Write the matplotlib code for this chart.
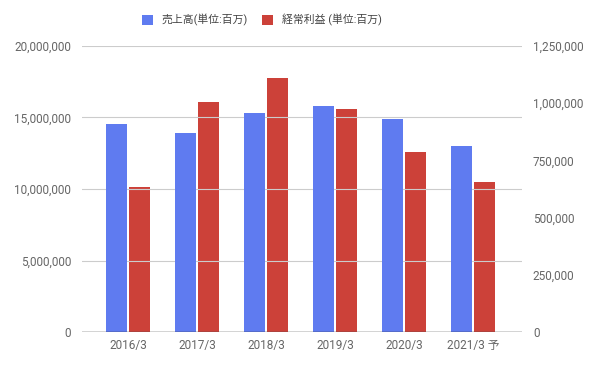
import matplotlib.pyplot as plt
import numpy as np
from matplotlib.ticker import FuncFormatter

plt.rcParams['font.family'] = ['Roboto', 'Noto Sans CJK JP', 'DejaVu Sans']

categories = ["2016/3", "2017/3", "2018/3", "2019/3", "2020/3", "2021/3 予"]
sales = [14550000, 13900000, 15300000, 15800000, 14900000, 13000000]
profit = [634000, 1005000, 1110000, 975000, 787000, 656000]
left_ticks = [0, 5000000, 10000000, 15000000, 20000000]
right_ticks = [0, 250000, 500000, 750000, 1000000, 1250000]

blue = "#5f7bf0"
red = "#cc4139"
grey = "#666666"

fig = plt.figure(figsize=(5.95, 3.67), dpi=100)
ax = fig.add_axes([0.138, 0.095, 0.739, 0.78])
ax2 = ax.twinx()

x = np.arange(len(categories))
w = 0.30
ax.bar(x - w / 2 - 0.015, sales, w, color=blue, zorder=3, label="売上高(単位:百万)")
ax2.bar(x + w / 2 + 0.015, profit, w, color=red, zorder=3, label="経常利益 (単位:百万)")

ax.set_xlim(-0.667, 5.71)
ax.set_ylim(0, 20000000)
ax2.set_ylim(0, 1250000)
ax.set_yticks(left_ticks)
ax2.set_yticks(right_ticks)
fmt = FuncFormatter(lambda v, p: f"{int(v):,}")
ax.yaxis.set_major_formatter(fmt)
ax2.yaxis.set_major_formatter(fmt)
ax.set_xticks(x)
ax.set_xticklabels(categories)

ax.grid(axis="y", color="#cccccc", linewidth=0.8, zorder=0)
for a in (ax, ax2):
    for s in ("top", "left", "right", "bottom"):
        a.spines[s].set_visible(False)
    a.tick_params(axis="both", length=0, labelsize=8.5, labelcolor=grey)
ax.axhline(0, color="#333333", linewidth=1, zorder=4)
ax.tick_params(axis="y", pad=8)
ax2.tick_params(axis="y", pad=8)
ax.tick_params(axis="x", pad=5)
ax.set_zorder(ax2.get_zorder() + 1)
ax.patch.set_visible(False)

h1, l1 = ax.get_legend_handles_labels()
h2, l2 = ax2.get_legend_handles_labels()
fig.legend(h1 + h2, l1 + l2, loc="center", bbox_to_anchor=(0.44, 0.945), ncol=2,
           frameon=False, fontsize=7.8, labelcolor="#444444",
           handlelength=1.0, handleheight=1.0, columnspacing=1.3, handletextpad=0.8)

fig.savefig("out.png", dpi=100)
